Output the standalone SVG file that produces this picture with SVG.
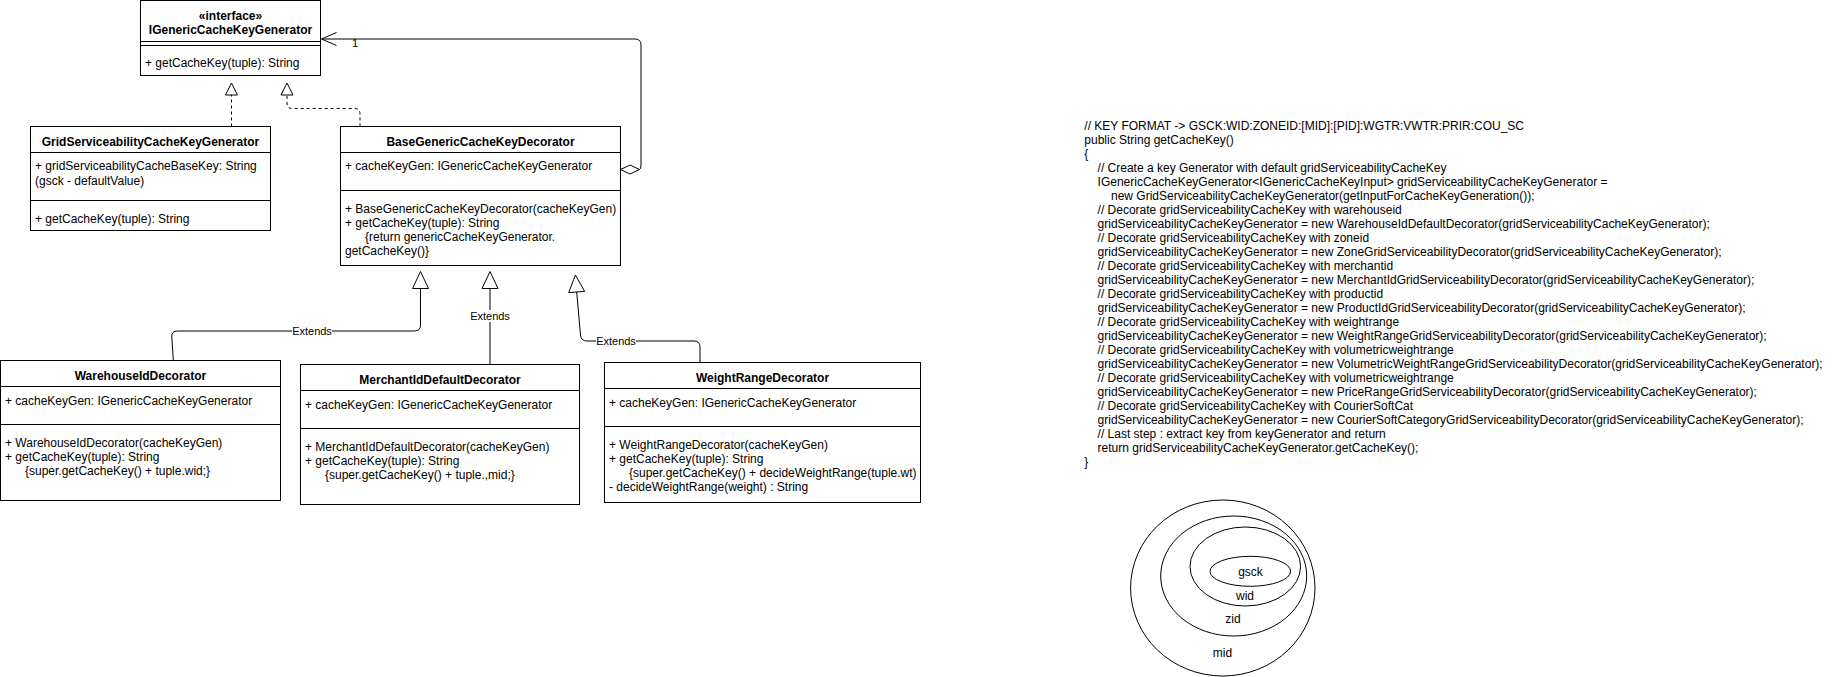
<svg xmlns="http://www.w3.org/2000/svg" width="1840" height="677" viewBox="0 0 1840 677">
<style>
  .box { fill: #ffffff; stroke: #000000; stroke-width: 1; }
  .sep { stroke: #000000; stroke-width: 1; fill: none; }
  text { font-family: "Liberation Sans", Arial, Helvetica, sans-serif; font-size: 12px; fill: #000000; }
  .title { font-weight: bold; text-anchor: middle; }
  .lbl { font-size: 11px; text-anchor: middle; }
  .mid { text-anchor: middle; }
  .edge { fill: none; stroke: #000000; stroke-width: 1; }
  .dash { stroke-dasharray: 3 3; }
  .tri { fill: #ffffff; stroke: #000000; stroke-width: 1; }
  .lblbg { fill: #ffffff; stroke: none; }
  .ell { fill: none; stroke: #000000; stroke-width: 1; }
</style>
<rect x="0" y="0" width="1840" height="677" fill="#ffffff"/>

<g id="connectors">
  <!-- realization: GridServiceabilityCacheKeyGenerator -> interface -->
  <path class="edge dash" d="M 231.5 126.5 L 231.5 95"/>
  <polygon class="tri" points="231.5,83 225.5,95 237.5,95"/>
  <!-- realization: BaseGenericCacheKeyDecorator -> interface -->
  <path class="edge dash" d="M 360 126.5 L 360 114 Q 360 108.5 354.5 108.5 L 292.5 108.5 Q 287 108.5 287 103 L 287 95"/>
  <polygon class="tri" points="287,83 281,95 293,95"/>
  <!-- aggregation: BaseGenericCacheKeyDecorator -> interface -->
  <polygon class="tri" points="620.5,169.5 630,165 639.5,169.5 630,174"/>
  <path class="edge" d="M 639.5 169.5 Q 641 169.5 641 165 L 641 45 Q 641 39 635 39 L 322 39"/>
  <polyline class="edge" points="336.5,32.5 321.5,39 336.5,45.5"/>
  <text class="lbl" x="355" y="47">1</text>
  <!-- extends: WarehouseIdDecorator -->
  <path class="edge" d="M 173.3 360 L 171.8 337 Q 171.5 331 177.5 331 L 414.5 331 Q 420.5 331 420.5 325 L 420.5 288.5"/>
  <polygon class="tri" points="420.5,271.5 412.5,288.5 428.5,288.5"/>
  <rect class="lblbg" x="292" y="325" width="40" height="12"/>
  <text class="lbl" x="312" y="335">Extends</text>
  <!-- extends: MerchantIdDefaultDecorator -->
  <path class="edge" d="M 490 364 L 490 288.5"/>
  <polygon class="tri" points="490,271.5 482,288.5 498,288.5"/>
  <rect class="lblbg" x="470" y="310" width="40" height="12"/>
  <text class="lbl" x="490" y="320">Extends</text>
  <!-- extends: WeightRangeDecorator -->
  <path class="edge" d="M 700 362 L 700 347 Q 700 341 694 341 L 587 341 Q 581 341 580.5 335 L 576.7 292"/>
  <polygon class="tri" points="575.4,275 584.7,291.4 568.7,292.6"/>
  <rect class="lblbg" x="596" y="335" width="40" height="12"/>
  <text class="lbl" x="616" y="345">Extends</text>
</g>

<g id="IGenericCacheKeyGenerator">
  <rect class="box" x="140.5" y="0.5" width="180" height="75"/>
  <line class="sep" x1="140.5" y1="41.5" x2="320.5" y2="41.5"/>
  <line class="sep" x1="140.5" y1="45.5" x2="320.5" y2="45.5"/>
  <text class="title" x="230.5" y="19.5">«interface»</text>
  <text class="title" x="230.5" y="33.5">IGenericCacheKeyGenerator</text>
  <text x="145" y="67">+ getCacheKey(tuple): String</text>
</g>

<g id="GridServiceabilityCacheKeyGenerator">
  <rect class="box" x="30.5" y="126.5" width="240" height="104"/>
  <line class="sep" x1="30.5" y1="152.5" x2="270.5" y2="152.5"/>
  <line class="sep" x1="30.5" y1="200.5" x2="270.5" y2="200.5"/>
  <text class="title" x="150.5" y="145.5">GridServiceabilityCacheKeyGenerator</text>
  <text x="35" y="170">+ gridServiceabilityCacheBaseKey: String</text>
  <text x="35" y="184.5">(gsck - defaultValue)</text>
  <text x="35" y="222.5">+ getCacheKey(tuple): String</text>
</g>

<g id="BaseGenericCacheKeyDecorator">
  <rect class="box" x="340.5" y="126.5" width="280" height="139"/>
  <line class="sep" x1="340.5" y1="152.5" x2="620.5" y2="152.5"/>
  <line class="sep" x1="340.5" y1="190.5" x2="620.5" y2="190.5"/>
  <text class="title" x="480.5" y="145.5">BaseGenericCacheKeyDecorator</text>
  <text x="345" y="170">+ cacheKeyGen: IGenericCacheKeyGenerator</text>
  <text x="345" y="212.5">+ BaseGenericCacheKeyDecorator(cacheKeyGen)</text>
  <text x="345" y="226.5">+ getCacheKey(tuple): String</text>
  <text x="365" y="240.5">{return genericCacheKeyGenerator.</text>
  <text x="345" y="254.5">getCacheKey()}</text>
</g>

<g id="WarehouseIdDecorator">
  <rect class="box" x="0.5" y="360.5" width="280" height="140"/>
  <line class="sep" x1="0.5" y1="386.5" x2="280.5" y2="386.5"/>
  <line class="sep" x1="0.5" y1="424.5" x2="280.5" y2="424.5"/>
  <text class="title" x="140.5" y="379.5">WarehouseIdDecorator</text>
  <text x="5" y="404.5">+ cacheKeyGen: IGenericCacheKeyGenerator</text>
  <text x="5" y="446.5">+ WarehouseIdDecorator(cacheKeyGen)</text>
  <text x="5" y="460.5">+ getCacheKey(tuple): String</text>
  <text x="25" y="474.5">{super.getCacheKey() + tuple.wid;}</text>
</g>

<g id="MerchantIdDefaultDecorator">
  <rect class="box" x="300.5" y="364.5" width="279" height="140"/>
  <line class="sep" x1="300.5" y1="390.5" x2="579.5" y2="390.5"/>
  <line class="sep" x1="300.5" y1="428.5" x2="579.5" y2="428.5"/>
  <text class="title" x="440" y="383.5">MerchantIdDefaultDecorator</text>
  <text x="305" y="408.5">+ cacheKeyGen: IGenericCacheKeyGenerator</text>
  <text x="305" y="450.5">+ MerchantIdDefaultDecorator(cacheKeyGen)</text>
  <text x="305" y="464.5">+ getCacheKey(tuple): String</text>
  <text x="325" y="478.5">{super.getCacheKey() + tuple.,mid;}</text>
</g>

<g id="WeightRangeDecorator">
  <rect class="box" x="604.5" y="362.5" width="316" height="140"/>
  <line class="sep" x1="604.5" y1="388.5" x2="920.5" y2="388.5"/>
  <line class="sep" x1="604.5" y1="426.5" x2="920.5" y2="426.5"/>
  <text class="title" x="762.5" y="381.5">WeightRangeDecorator</text>
  <text x="609" y="406.5">+ cacheKeyGen: IGenericCacheKeyGenerator</text>
  <text x="609" y="448.5">+ WeightRangeDecorator(cacheKeyGen)</text>
  <text x="609" y="462.5">+ getCacheKey(tuple): String</text>
  <text x="629" y="476.5">{super.getCacheKey() + decideWeightRange(tuple.wt)</text>
  <text x="609" y="490.5">- decideWeightRange(weight) : String</text>
</g>

<g id="code-note">
  <text>
    <tspan x="1084.3" y="129.5">// KEY FORMAT -&gt; GSCK:WID:ZONEID:[MID]:[PID]:WGTR:VWTR:PRIR:COU_SC</tspan>
    <tspan x="1084.3" y="143.5">public String getCacheKey()</tspan>
    <tspan x="1084.3" y="157.5">{</tspan>
    <tspan x="1097.6" y="171.5">// Create a key Generator with default gridServiceabilityCacheKey</tspan>
    <tspan x="1097.6" y="185.5">IGenericCacheKeyGenerator&lt;IGenericCacheKeyInput&gt; gridServiceabilityCacheKeyGenerator =</tspan>
    <tspan x="1111" y="199.5">new GridServiceabilityCacheKeyGenerator(getInputForCacheKeyGeneration());</tspan>
    <tspan x="1097.6" y="213.5">// Decorate gridServiceabilityCacheKey with warehouseid</tspan>
    <tspan x="1097.6" y="227.5">gridServiceabilityCacheKeyGenerator = new WarehouseIdDefaultDecorator(gridServiceabilityCacheKeyGenerator);</tspan>
    <tspan x="1097.6" y="241.5">// Decorate gridServiceabilityCacheKey with zoneid</tspan>
    <tspan x="1097.6" y="255.5">gridServiceabilityCacheKeyGenerator = new ZoneGridServiceabilityDecorator(gridServiceabilityCacheKeyGenerator);</tspan>
    <tspan x="1097.6" y="269.5">// Decorate gridServiceabilityCacheKey with merchantid</tspan>
    <tspan x="1097.6" y="283.5">gridServiceabilityCacheKeyGenerator = new MerchantIdGridServiceabilityDecorator(gridServiceabilityCacheKeyGenerator);</tspan>
    <tspan x="1097.6" y="297.5">// Decorate gridServiceabilityCacheKey with productid</tspan>
    <tspan x="1097.6" y="311.5">gridServiceabilityCacheKeyGenerator = new ProductIdGridServiceabilityDecorator(gridServiceabilityCacheKeyGenerator);</tspan>
    <tspan x="1097.6" y="325.5">// Decorate gridServiceabilityCacheKey with weightrange</tspan>
    <tspan x="1097.6" y="339.5">gridServiceabilityCacheKeyGenerator = new WeightRangeGridServiceabilityDecorator(gridServiceabilityCacheKeyGenerator);</tspan>
    <tspan x="1097.6" y="353.5">// Decorate gridServiceabilityCacheKey with volumetricweightrange</tspan>
    <tspan x="1097.6" y="367.5">gridServiceabilityCacheKeyGenerator = new VolumetricWeightRangeGridServiceabilityDecorator(gridServiceabilityCacheKeyGenerator);</tspan>
    <tspan x="1097.6" y="381.5">// Decorate gridServiceabilityCacheKey with volumetricweightrange</tspan>
    <tspan x="1097.6" y="395.5">gridServiceabilityCacheKeyGenerator = new PriceRangeGridServiceabilityDecorator(gridServiceabilityCacheKeyGenerator);</tspan>
    <tspan x="1097.6" y="409.5">// Decorate gridServiceabilityCacheKey with CourierSoftCat</tspan>
    <tspan x="1097.6" y="423.5">gridServiceabilityCacheKeyGenerator = new CourierSoftCategoryGridServiceabilityDecorator(gridServiceabilityCacheKeyGenerator);</tspan>
    <tspan x="1097.6" y="437.5">// Last step : extract key from keyGenerator and return</tspan>
    <tspan x="1097.6" y="451.5">return gridServiceabilityCacheKeyGenerator.getCacheKey();</tspan>
    <tspan x="1084.3" y="465.5">}</tspan>
  </text>
</g>

<g id="key-nesting">
  <g id="mid">
    <ellipse class="ell" cx="1222.8" cy="588" rx="92.2" ry="88"/>
    <text class="mid" x="1222.5" y="656.5">mid</text>
  </g>
  <g id="zid">
    <ellipse class="ell" cx="1233.7" cy="576" rx="73" ry="60"/>
    <text class="mid" x="1233" y="622.5">zid</text>
  </g>
  <g id="wid">
    <ellipse class="ell" cx="1245.3" cy="566.5" rx="55.3" ry="39.5"/>
    <text class="mid" x="1245" y="599.5">wid</text>
  </g>
  <g id="gsck">
    <ellipse class="ell" cx="1250.3" cy="571.3" rx="40.3" ry="15"/>
    <text class="mid" x="1250.5" y="576">gsck</text>
  </g>
</g>
</svg>
